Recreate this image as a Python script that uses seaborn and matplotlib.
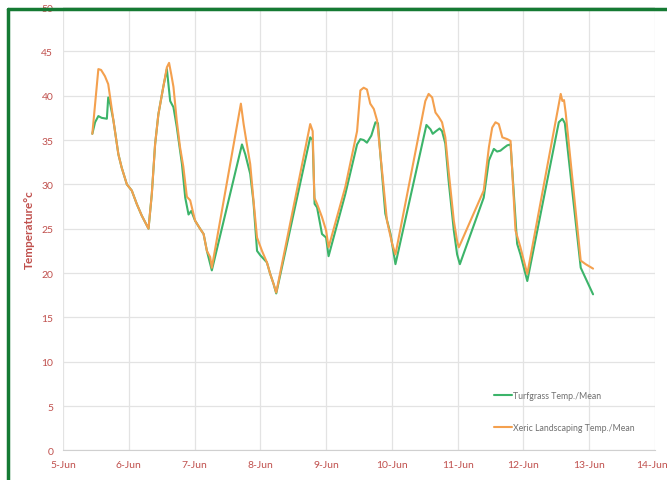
import pandas as pd
import seaborn as sns
import matplotlib.pyplot as plt
import matplotlib.dates as mdates
import matplotlib.transforms as mtransforms
from matplotlib.lines import Line2D

# --- Data: hours after midnight on 5-Jun, temperature in deg C ---
turf_hours = [10.7, 11.7, 12.9, 14.1, 16.0, 16.5, 17.2, 18.4, 20.2, 21.4, 23.3, 25.1,
              26.9, 28.7, 31.2, 32.4, 33.6, 34.8, 36.6, 37.9, 39.1, 40.3, 41.5, 43.4,
              44.6, 45.8, 46.8, 48.2, 50.0, 51.3, 52.5, 54.3, 65.3, 66.5, 68.3, 69.5,
              70.8, 72.0, 74.4, 75.6, 76.8, 77.8, 90.2, 91.1, 91.8, 92.7, 94.5, 96.0,
              96.9, 103.0, 107.3, 108.5, 109.7, 110.9, 112.5, 114.0, 114.9, 115.8, 117.6,
              119.5, 121.3, 132.6, 134.1, 134.9, 136.1, 137.4, 138.3, 139.5, 140.7, 142.6,
              143.8, 144.8, 153.5, 155.4, 157.2, 158.4, 159.6, 160.8, 162.1, 163.3, 165.7,
              166.9, 169.4, 180.9, 182.2, 183.1, 188.9, 193.4]
turf_temp = [35.7, 37.0, 37.7, 37.5, 37.4, 39.8, 39.1, 37.2, 33.4, 31.9, 30.0, 29.3,
             27.8, 26.5, 25.0, 28.9, 34.5, 37.9, 41.0, 43.0, 39.4, 38.7, 36.5, 32.3,
             28.5, 26.6, 27.0, 25.9, 25.0, 24.4, 22.5, 20.3, 34.5, 33.4, 31.2, 28.0,
             22.5, 22.0, 21.2, 19.9, 18.8, 17.7, 35.3, 35.0, 27.8, 27.4, 24.4, 24.0,
             21.9, 28.9, 34.5, 35.1, 35.0, 34.7, 35.5, 37.0, 36.9, 33.4, 26.7,
             24.4, 21.0, 36.7, 36.2, 35.7, 36.0, 36.3, 36.0, 34.6, 30.4, 24.8,
             22.1, 21.0, 28.5, 32.7, 34.0, 33.7, 33.8, 34.1, 34.4, 34.5, 23.3,
             22.1, 19.1, 37.0, 37.4, 36.9, 20.6, 17.6]

xeric_hours = [10.7, 12.9, 13.9, 15.3, 16.5, 17.2, 18.4, 20.2, 21.4, 23.3, 25.1, 26.9,
               28.7, 31.2, 32.4, 33.6, 34.8, 36.6, 37.9, 38.7, 39.5, 40.3, 41.5, 42.7,
               43.9, 45.2, 46.4, 48.2, 50.0, 51.3, 52.5, 53.7, 54.3, 64.9, 65.9, 67.1,
               68.3, 69.5, 70.8, 72.6, 74.4, 75.6, 76.8, 77.8, 90.2, 91.1, 91.7, 92.7,
               94.5, 96.0, 96.9, 103.0, 107.3, 108.5, 109.7, 110.9, 112.1, 113.4, 114.6,
               115.8, 117.0, 118.2, 120.1, 121.3, 132.2, 133.4, 134.7, 135.9, 137.1,
               138.3, 139.5, 140.7, 142.6, 143.8, 144.4, 145.0, 153.5, 155.4, 156.6,
               157.8, 159.0, 160.3, 162.1, 163.3, 165.1, 166.9, 169.4, 181.6, 182.2,
               182.8, 183.4, 188.9, 190.7, 193.4]
xeric_temp = [35.7, 43.0, 42.9, 42.2, 41.3, 39.8, 37.2, 33.4, 31.9, 30.0, 29.3, 27.8,
              26.5, 25.0, 28.9, 34.5, 37.9, 41.0, 43.2, 43.7, 42.4, 41.0, 37.2, 34.2,
              32.0, 28.6, 28.2, 25.9, 25.0, 24.4, 22.5, 21.8, 20.6, 39.1, 36.8, 34.5,
              32.3, 28.2, 24.0, 22.5, 21.2, 19.9, 18.8, 17.8, 36.8, 36.0, 28.5, 27.8,
              26.3, 24.8, 22.9, 29.7, 36.0, 40.6, 40.9, 40.7, 39.1, 38.5, 37.2,
              33.4, 29.7, 25.9, 23.3, 22.1, 39.4, 40.2, 39.8, 38.1, 37.6,
              37.0, 35.3, 31.5, 25.9, 23.6, 22.9, 23.3, 29.3, 34.2, 36.4,
              37.0, 36.8, 35.3, 35.1, 34.9, 24.8, 22.9, 19.9, 40.2, 39.4,
              39.5, 38.1, 21.4, 21.0, 20.5]

series_names = ["Turfgrass Temp./Mean", "Xeric Landscaping Temp./Mean"]
series_colors = ["#3cb46a", "#f4a04e"]
y_ticks = list(range(0, 55, 5))

# --- Build frame ---
start = pd.Timestamp("2023-06-05")
df = pd.concat([
    pd.DataFrame({"Time": start + pd.to_timedelta(turf_hours, unit="h"),
                  "Temp": turf_temp, "Series": series_names[0]}),
    pd.DataFrame({"Time": start + pd.to_timedelta(xeric_hours, unit="h"),
                  "Temp": xeric_temp, "Series": series_names[1]}),
])

# --- Plot ---
sns.set_style("white")
plt.rcParams["font.family"] = ["Lato", "DejaVu Sans"]

fig = plt.figure(figsize=(6.67, 4.81), dpi=100)
ax = fig.add_axes([63 / 667, 1 - 451.4 / 481, 592 / 667, 443.4 / 481])

sns.lineplot(data=df, x="Time", y="Temp", hue="Series", hue_order=series_names,
             palette=dict(zip(series_names, series_colors)), estimator=None,
             linewidth=1.5, ax=ax)

red = "#c0504d"
ax.set_xlim(start, start + pd.Timedelta(days=9))
ax.set_ylim(0, 50)
ax.set_yticks(y_ticks)
ax.xaxis.set_major_locator(mdates.DayLocator())
ax.xaxis.set_major_formatter(mdates.DateFormatter("%-d-%b"))
ax.tick_params(length=0, labelcolor=red, labelsize=7.5)
ax.tick_params(axis="y", pad=7)
ax.tick_params(axis="x", pad=7)
ax.grid(True, color="#e3e3e3", linewidth=0.9)
for side in ["top", "right", "left"]:
    ax.spines[side].set_visible(False)
ax.spines["bottom"].set_color("#d0d0d0")
ax.set_xlabel("")
ax.set_ylabel("Temperature°c", color=red, fontsize=8.5, fontweight="bold")
ax.yaxis.set_label_coords(-0.047, 0.5)

# keep the last date label inside the picture
fig.canvas.draw()
last = ax.get_xticklabels()[-1]
last.set_transform(last.get_transform() +
                   mtransforms.ScaledTranslation(-3 / 100, 0, fig.dpi_scale_trans))

ax.legend(loc="upper left", bbox_to_anchor=(490 / 667, 1 - 388 / 481),
          bbox_transform=fig.transFigure, frameon=False, fontsize=6.3,
          labelcolor="#707070", handlelength=2.0, handletextpad=0.15,
          labelspacing=2.6, borderpad=0)

# green frame around the picture
frame = "#157a33"
fig.add_artist(Line2D([8 / 667, 8 / 667], [0, 1 - 10 / 481], color=frame,
                      linewidth=2.5, transform=fig.transFigure, zorder=10))
fig.add_artist(Line2D([8 / 667, 1], [1 - 10 / 481, 1 - 10 / 481], color=frame,
                      linewidth=2.5, transform=fig.transFigure, zorder=10))

plt.savefig("out.png", dpi=100)
